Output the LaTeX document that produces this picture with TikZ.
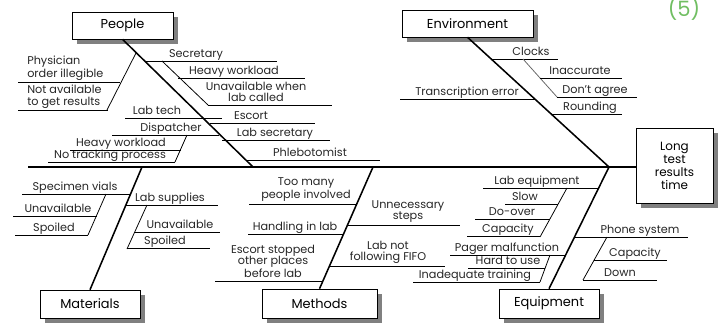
\documentclass[tikz,border=0pt]{standalone}
\usepackage{fontspec}
\setmainfont{Poppins}
\usetikzlibrary{shadows}

\definecolor{fivegreen}{RGB}{112,190,98}
\tikzstyle{cause} = [draw,fill=white,font=\fontsize{9.2}{10}\selectfont,inner sep=1pt,
	drop shadow={shadow xshift=3.5pt,shadow yshift=-3.5pt,fill=black!50,opacity=1}]
\tikzstyle{item} = [font=\fontsize{8}{8.1}\selectfont,inner sep=0pt,align=center,text=black!85]
\tikzstyle{bone} = [line width=1.1pt]
\tikzstyle{twig} = [line width=0.55pt]
\tikzstyle{spine} = [line width=1.3pt]

\begin{document}
\begin{tikzpicture}[x=0.025cm,y=-0.025cm]
	\useasboundingbox (0,0) rectangle (728,322);
	\node[text=fivegreen,font=\fontsize{15}{15}\selectfont,anchor=base] (num) at (684,16) {(5)};

	\node[cause,minimum width=2.525cm,minimum height=0.675cm] (people) at (122.5,25.5) {People};
	\node[cause,minimum width=3.275cm,minimum height=0.675cm] (env) at (467.5,23.5) {Environment};
	\node[cause,minimum width=2.5cm,minimum height=0.7cm] (mat) at (90,304) {Materials};
	\node[cause,minimum width=2.875cm,minimum height=0.725cm] (meth) at (319.5,303.5) {Methods};
	\node[cause,minimum width=2.5cm,minimum height=0.725cm] (equip) at (549,303.5) {Equipment};
	\node[cause,minimum width=1.925cm,minimum height=1.875cm,align=center,
		font=\fontsize{8.5}{9.2}\selectfont] (effect) at (674.5,165.5) {Long\\test\\results\\time};

	\coordinate (tail) at (28,167);
	\coordinate (pj) at (253,167);
	\coordinate (ej) at (609,167);
	\coordinate (mj) at (142,167);
	\coordinate (tj) at (373,167);
	\draw[spine] (tail) -- (tail -| effect.west);
	\draw[bone] (people.south) -- (pj);
	\draw[bone] (env.south) -- (ej);
	\draw[bone] (mat.north) -- (mj);
	\draw[bone] (meth.north) -- (tj);
	\draw[bone] (equip.north) -- (ej);

	\node[item,anchor=south west,align=left] (physician) at (27,80.5) {Physician\\order illegible};
	\node[item,anchor=south west,align=left] (notavail) at (27,108.5) {Not available\\to get results};
	\node[item,anchor=base] (secretary) at (196,57.5) {Secretary};
	\node[item,anchor=base] (workload) at (234,74.5) {Heavy workload};
	\node[item,anchor=south] (unavail) at (256,102) {Unavailable when\\lab called};
	\node[item,anchor=base] (labtech) at (157,114.5) {Lab tech};
	\node[item,anchor=base] (escort) at (251,119.5) {Escort};
	\node[item,anchor=base] (dispatcher) at (171,131.5) {Dispatcher};
	\node[item,anchor=base] (dworkload) at (121,146.5) {Heavy workload};
	\node[item,anchor=base] (tracking) at (110,158.5) {No tracking process};
	\node[item,anchor=base] (labsecr) at (275,136.5) {Lab secretary};
	\node[item,anchor=base] (phlebo) at (310,156.5) {Phlebotomist};
	\draw[twig] (18,82) -- (120,82);
	\draw[twig] (18,110) -- (108,110);
	\draw[twig] (136,53) -- (107,110);
	\draw[twig] (145,61) -- (277,61);
	\draw[twig] (162,61) -- (208,105);
	\draw[twig] (178,78) -- (305,78);
	\draw[twig] (208,105) -- (332,105);
	\draw[twig] (125,118) -- (222,118);
	\draw[twig] (210,123) -- (315,123);
	\draw[twig] (112,135) -- (219,135);
	\draw[twig] (187,135) -- (175,162);
	\draw[twig] (70,150) -- (181,150);
	\draw[twig] (48,162) -- (175,162);
	\draw[twig] (222,140) -- (330,140);
	\draw[twig] (246,160) -- (380,160);

	\node[item,anchor=base] (clocks) at (531,55.5) {Clocks};
	\node[item,anchor=base] (inaccurate) at (580,74.5) {Inaccurate};
	\node[item,anchor=base] (disagree) at (595,93.5) {Don't agree};
	\node[item,anchor=base] (transcr) at (467,95.5) {Transcription error};
	\node[item,anchor=base] (rounding) at (590,110.5) {Rounding};
	\draw[twig] (491,59) -- (558,59);
	\draw[twig,black!60] (523,59) -- (557,97);
	\draw[twig] (540,78) -- (622,78);
	\draw[twig] (557,97) -- (637,97);
	\draw[twig] (400,99) -- (535,99);
	\draw[twig] (551,114) -- (622,114);

	\node[item,anchor=base] (vials) at (75,190.5) {Specimen vials};
	\node[item,anchor=base] (munavail) at (58,212.5) {Unavailable};
	\node[item,anchor=base] (mspoiled) at (54,231.5) {Spoiled};
	\node[item,anchor=base] (supplies) at (170,201.5) {Lab supplies};
	\node[item,anchor=base] (sunavail) at (180,228.5) {Unavailable};
	\node[item,anchor=base] (sspoiled) at (165,244.5) {Spoiled};
	\draw[twig] (22,194) -- (130,194);
	\draw[twig] (106,194) -- (88,235);
	\draw[twig] (13,216) -- (97,216);
	\draw[twig] (15,235) -- (88,235);
	\draw[twig] (126,205) -- (218,205);
	\draw[twig] (147,205) -- (127,249);
	\draw[twig] (135,232) -- (220,232);
	\draw[twig] (127,248) -- (210,248);

	\node[item,anchor=south] (toomany) at (306,202) {Too many\\people involved};
	\node[item,anchor=base] (handling) at (295,230.5) {Handling in lab};
	\node[item,anchor=south] (stopped) at (273,278) {Escort stopped\\other places\\before lab};
	\node[item,anchor=south] (steps) at (408,223) {Unnecessary\\steps};
	\node[item,anchor=south] (fifo) at (388,264) {Lab not\\following FIFO};
	\draw[twig] (249,204) -- (357,204);
	\draw[twig] (248,234) -- (343,234);
	\draw[twig] (215,281) -- (323,281);
	\draw[twig] (347,225) -- (460,225);
	\draw[twig] (329,266) -- (445,266);

	\node[item,anchor=base] (labequip) at (537,184.5) {Lab equipment};
	\node[item,anchor=base] (slow) at (525,200.5) {Slow};
	\node[item,anchor=base] (doover) at (512,215.5) {Do-over};
	\node[item,anchor=base] (capacity) at (508,232.5) {Capacity};
	\node[item,anchor=base] (pager) at (507,251.5) {Pager malfunction};
	\node[item,anchor=base] (hard) at (508,264.5) {Hard to use};
	\node[item,anchor=base] (training) at (475,278.5) {Inadequate training};
	\node[item,anchor=base] (phone) at (640,233.5) {Phone system};
	\node[item,anchor=base] (pcapacity) at (635,256.5) {Capacity};
	\node[item,anchor=base] (down) at (620,276.5) {Down};
	\draw[twig] (483,188) -- (598,188);
	\draw[twig] (567,188) -- (540,237);
	\draw[twig] (505,204) -- (558,204);
	\draw[twig] (475,219) -- (550,219);
	\draw[twig] (467,236) -- (540,236);
	\draw[twig] (450,255) -- (565,255);
	\draw[twig] (550,255) -- (540,282);
	\draw[twig] (468,268) -- (545,268);
	\draw[twig] (413,282) -- (540,282);
	\draw[twig] (575,237) -- (688,237);
	\draw[twig] (607,237) -- (583,280);
	\draw[twig] (594,260) -- (667,260);
	\draw[twig] (583,280) -- (657,280);
\end{tikzpicture}
\end{document}
